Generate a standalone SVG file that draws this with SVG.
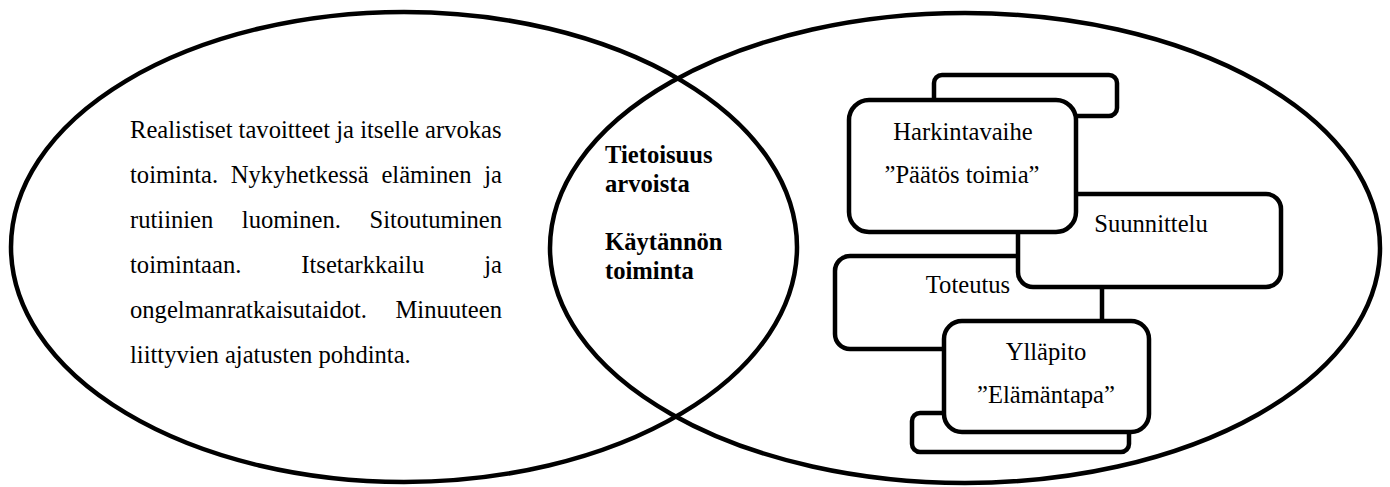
<svg xmlns="http://www.w3.org/2000/svg" width="1390" height="487" viewBox="0 0 1390 487">
  <style>
    .ring { fill: none; stroke: #000; stroke-width: 4.5; }
    .box { fill: #fff; stroke: #000; stroke-width: 4.5; }
    .t { font-family: "Liberation Serif", "Times New Roman", "DejaVu Serif", serif; font-size: 24.6px; fill: #000; }
    .c { text-anchor: middle; }
    .e { text-anchor: end; }
    .b { font-weight: bold; }
  </style>
  <rect width="1390" height="487" fill="#fff"/>

  <!-- Two overlapping ellipses -->
  <g id="left-area">
    <ellipse class="ring" cx="404" cy="247" rx="393" ry="235"/>
    <text class="t" y="138" x="130">Realistiset tavoitteet ja itselle arvokas</text>
    <text class="t" y="183"><tspan x="130">toiminta.</tspan><tspan x="230.8">Nykyhetkessä</tspan><tspan x="381.4">eläminen</tspan><tspan x="502" class="e">ja</tspan></text>
    <text class="t" y="228"><tspan x="130">rutiinien</tspan><tspan x="241.8">luominen.</tspan><tspan x="502" class="e">Sitoutuminen</tspan></text>
    <text class="t" y="273"><tspan x="130">toimintaan.</tspan><tspan x="301.3">Itsetarkkailu</tspan><tspan x="502" class="e">ja</tspan></text>
    <text class="t" y="318"><tspan x="130">ongelmanratkaisutaidot.</tspan><tspan x="502" class="e">Minuuteen</tspan></text>
    <text class="t" y="363" x="130">liittyvien ajatusten pohdinta.</text>
  </g>

  <g id="right-area">
    <ellipse class="ring" cx="965" cy="248" rx="415" ry="235"/>
  </g>

  <g id="overlap">
    <text class="t b" x="605" y="163">Tietoisuus</text>
    <text class="t b" x="605" y="192">arvoista</text>
    <text class="t b" x="605" y="250">Käytännön</text>
    <text class="t b" x="605" y="279">toiminta</text>
  </g>

  <!-- Staggered process boxes, back to front -->
  <g id="back-top">
    <rect class="box" x="934" y="75" width="183" height="41" rx="8"/>
  </g>
  <g id="back-bottom">
    <rect class="box" x="912" y="413" width="217" height="39" rx="8"/>
  </g>
  <g id="toteutus">
    <rect class="box" x="835" y="256" width="267" height="93" rx="15"/>
    <text class="t c" x="968" y="293">Toteutus</text>
  </g>
  <g id="suunnittelu">
    <rect class="box" x="1018" y="194" width="263" height="93" rx="15"/>
    <text class="t c" x="1151" y="232">Suunnittelu</text>
  </g>
  <g id="harkintavaihe">
    <rect class="box" x="849" y="100" width="227" height="132" rx="20"/>
    <text class="t c" x="963" y="140">Harkintavaihe</text>
    <text class="t c" x="962" y="183">”Päätös toimia”</text>
  </g>
  <g id="yllapito">
    <rect class="box" x="944" y="321" width="205" height="111" rx="18"/>
    <text class="t c" x="1046" y="360">Ylläpito</text>
    <text class="t c" x="1046" y="403">”Elämäntapa”</text>
  </g>

  <g id="connectors"></g>
</svg>
